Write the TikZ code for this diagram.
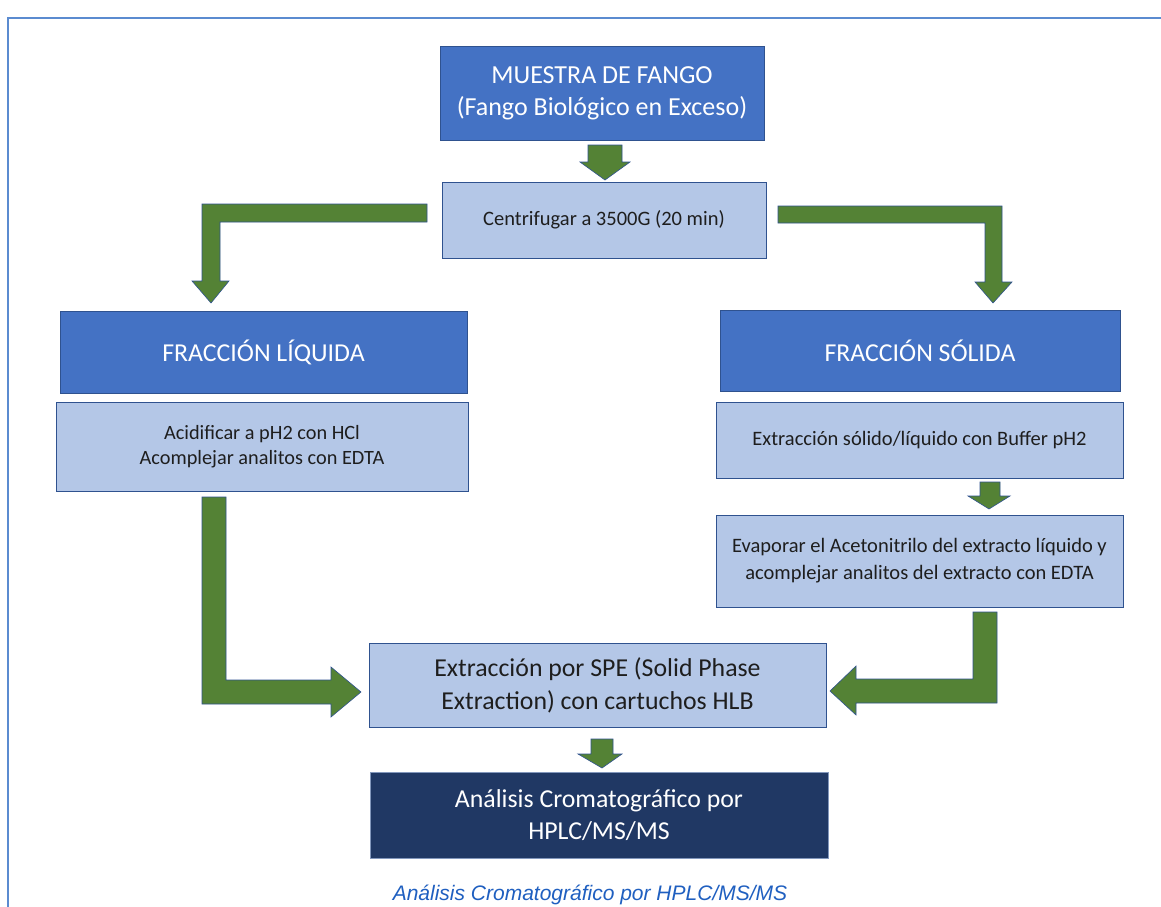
\documentclass[tikz,border=0pt]{standalone}
\usepackage{fontspec}
\setmainfont{Carlito}
\newfontfamily\capfont{Liberation Sans}
\definecolor{dblue}{HTML}{4472C4}
\definecolor{lblue}{HTML}{B4C7E7}
\definecolor{navy}{HTML}{203864}
\definecolor{edge}{HTML}{2F528F}
\definecolor{grn}{HTML}{548235}
\definecolor{frame}{HTML}{5B8BD0}
\definecolor{captc}{HTML}{1F5FC0}
\definecolor{txt}{HTML}{1E1E1E}
\tikzset{
  boxbase/.style={draw=edge, line width=0.9pt, inner sep=0pt, align=center},
  darkbox/.style={boxbase, fill=dblue, text=white, font=\fontsize{26}{32}\selectfont},
  lightbox/.style={boxbase, fill=lblue, text=txt, font=\fontsize{20.5}{27}\selectfont},
  bigbox/.style={boxbase, fill=lblue, text=txt, font=\fontsize{25.8}{33}\selectfont},
  navybox/.style={boxbase, fill=navy, text=white, draw=edge!60, font=\fontsize{25.8}{32}\selectfont},
  blockarrow/.style={fill=grn, draw=edge, line width=0.6pt, line join=miter}
}
\begin{document}
\begin{tikzpicture}[x=1pt,y=-1pt]
\useasboundingbox (0,0) rectangle (1161,906);
\fill[white] (0,0) rectangle (1161,906);
% frame
\draw[frame, line width=2pt] (8,910) -- (8,18) -- (1165,18);

% boxes
\node[darkbox, minimum width=324pt, minimum height=94pt] (muestra) at (602,93)
  {MUESTRA DE FANGO\\(Fango Biológico en Exceso)};
\node[lightbox, minimum width=324pt, minimum height=76pt] (centri) at (604,220)
  {Centrifugar a 3500G (20 min)};
\node[darkbox, minimum width=407pt, minimum height=82pt, font=\fontsize{25.8}{30}\selectfont] (liq) at (263.5,352)
  {FRACCIÓN LÍQUIDA};
\node[darkbox, minimum width=400pt, minimum height=81pt, font=\fontsize{25.8}{30}\selectfont] (sol) at (920,350.5)
  {FRACCIÓN SÓLIDA};
\node[lightbox, minimum width=412pt, minimum height=89pt, font=\fontsize{20.3}{24.5}\selectfont] (acid) at (262,446.5)
  {Acidificar a pH2 con HCl\\Acomplejar analitos con EDTA};
\node[lightbox, minimum width=407pt, minimum height=76pt] (extsl) at (919.5,440)
  {Extracción sólido/líquido con Buffer pH2};
\node[lightbox, minimum width=407pt, minimum height=92pt] (evap) at (919.5,561)
  {Evaporar el Acetonitrilo del extracto líquido y\\acomplejar analitos del extracto con EDTA};
\node[bigbox, minimum width=457pt, minimum height=84pt] (spe) at (597.5,685)
  {Extracción por SPE (Solid Phase\\Extraction) con cartuchos HLB};
\node[navybox, minimum width=458pt, minimum height=86pt] (anal) at (599,815)
  {Análisis Cromatográfico por\\HPLC/MS/MS};

% block arrows
% muestra -> centri
\draw[blockarrow] (588,145) -- (622,145) -- (622,162) -- (630,162) -- (605,180)
  -- (580,162) -- (588,162) -- cycle;
% centri -> liq
\draw[blockarrow] (427,204) -- (202,204) -- (202,281) -- (192,281) -- (211,303)
  -- (229,281) -- (220,281) -- (220,222) -- (427,222) -- cycle;
% centri -> sol
\draw[blockarrow] (778,206) -- (1002,206) -- (1002,282) -- (1012,282) -- (993,303)
  -- (975,282) -- (985,282) -- (985,223) -- (778,223) -- cycle;
% extsl -> evap
\draw[blockarrow] (980,482) -- (1000,482) -- (1000,496) -- (1010,496) -- (989,509)
  -- (968,496) -- (980,496) -- cycle;
% acid -> spe
\draw[blockarrow] (202,497) -- (226,497) -- (226,680) -- (331,680) -- (331,667)
  -- (361,692) -- (331,717) -- (331,704) -- (202,704) -- cycle;
% evap -> spe
\draw[blockarrow] (997,612) -- (973,612) -- (973,679) -- (856,679) -- (856,666)
  -- (830,691) -- (856,715) -- (856,703) -- (997,703) -- cycle;
% spe -> anal
\draw[blockarrow] (591,739) -- (613,739) -- (613,754) -- (622,754) -- (602,768)
  -- (578,754) -- (591,754) -- cycle;

% caption
\node[anchor=base, text=captc, font=\capfont\itshape\fontsize{21}{24}\selectfont, inner sep=0pt] (cap) at (590,900.5)
  {Análisis Cromatográfico por HPLC/MS/MS};
\end{tikzpicture}
\end{document}
